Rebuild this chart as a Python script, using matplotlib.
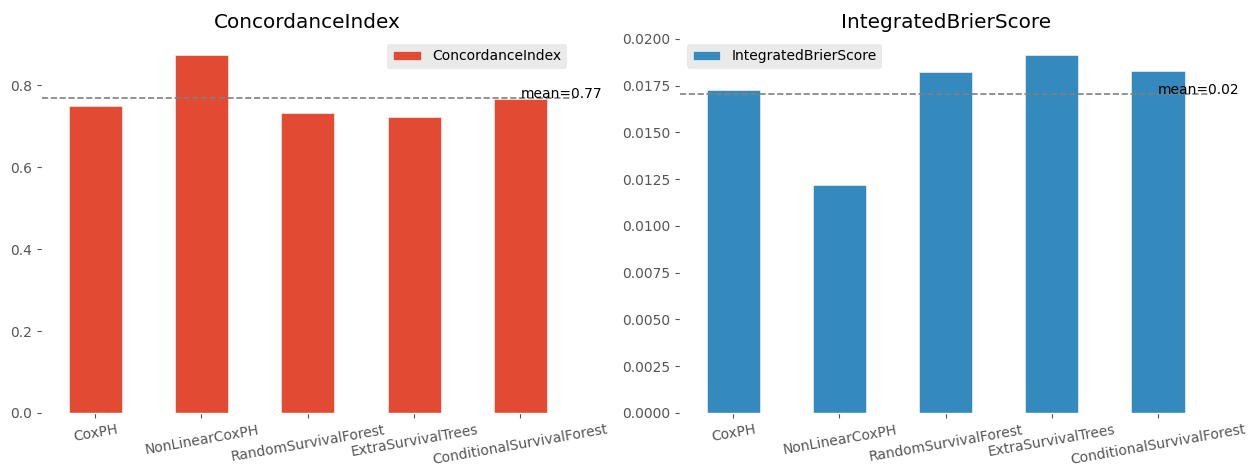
import matplotlib
matplotlib.use('Agg')
import matplotlib.pyplot as plt
import numpy as np

# valores
models = ['CoxPH', 'NonLinearCoxPH', 'RandomSurvivalForest',
          'ExtraSurvivalTrees', 'ConditionalSurvivalForest']
concordance = [0.749, 0.875, 0.732, 0.722, 0.766]
brier = [0.01728, 0.01221, 0.01824, 0.01915, 0.01829]

plt.style.use('ggplot')
plt.rcParams['axes.facecolor'] = 'white'
plt.rcParams['axes.grid'] = False
plt.rcParams['legend.facecolor'] = '#E5E5E5'

fig = plt.figure(figsize=(12.55, 4.72), dpi=100)
ax1 = fig.add_axes([0.0335, 0.125, 0.4235, 0.797])
ax2 = fig.add_axes([0.542, 0.125, 0.423, 0.797])

def draw(ax, values, name, color, legend_loc, fmt):
    x = np.arange(len(models))
    ax.bar(x, values, width=0.5, color=color, label=name,
           edgecolor='#EEEEEE', linewidth=0.5)
    ax.set_xlim(-0.5, len(models) - 0.5)
    ax.set_ylim(0, max(values) * 1.05)
    ax.set_xticks(x)
    ax.set_xticklabels(models, rotation=10, ha='center')
    mean = np.mean(values)
    ax.axhline(mean, color='grey', linestyle='--', linewidth=1.2, zorder=3)
    ax.text(4, mean, 'mean=' + fmt.format(mean), color='black', zorder=4)
    ax.set_title(name, fontsize=14.4)
    ax.legend(loc=legend_loc, frameon=True, edgecolor='none')

draw(ax1, concordance, 'ConcordanceIndex', '#E24A33', 'upper right', '{:.2f}')
draw(ax2, brier, 'IntegratedBrierScore', '#348ABD', 'upper left', '{:.2f}')

plt.savefig('out.png', dpi=100)
plt.close()
